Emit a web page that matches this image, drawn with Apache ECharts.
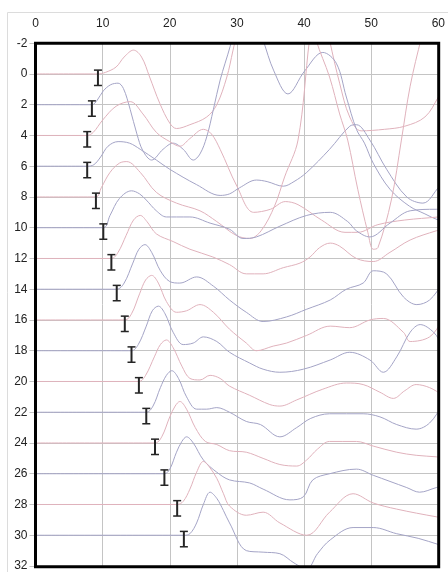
<!DOCTYPE html>
<html><head><meta charset="utf-8">
<script src="https://cdn.jsdelivr.net/npm/echarts@6/dist/echarts.min.js"></script>
<style>html,body{margin:0;padding:0;background:#fff}#c{width:448px;height:572px}</style>
</head><body><div id="c"></div>
<script>
const trace0=[[0,0],[9.3,0],[10.4,-0.1],[12,-0.45],[13.2,-1.1],[14.6,-1.55],[15.8,-1.1],[17,0.2],[18.5,1.9],[20,3.2],[21,3.55],[23,3.3],[25.5,2.8],[27,2.0],[28.5,0.2],[29.4,-1.5],[30.3,-3.2],[31.5,-5],[37,-8],[42.5,-5],[43.8,-2.2],[45.3,0.6],[46.8,2.8],[48.5,3.7],[52,3.6],[55,3.4],[58,2.8],[60,1.5],[61.5,0.2]];
const trace1=[[0,2],[8.4,2],[9.2,1.7],[10.1,1.1],[11.2,0.7],[12.3,0.6],[13.1,0.95],[14.1,2.3],[15.1,3.9],[16,5],[17.3,5.6],[19,4.9],[20.5,4.5],[22,4.9],[23.5,5.6],[24.5,5.2],[25.5,4.1],[26.5,2.3],[27.5,0.4],[29,-1.8],[30,-3.5],[32,-4.5],[33.9,-2.2],[35.5,-0.2],[37.6,1.3],[40.1,-0.2],[42.8,-1.4],[44.8,-0.7],[46.3,1.5],[47.8,3.6],[49,4.5],[50.3,5.8],[52.8,7.5],[55.7,8.6],[58,9.1],[60,9.5],[61.5,9.6]];
const trace2=[[0,4],[7.7,4],[8.6,3.8],[10,3.0],[12,2.1],[14.1,1.8],[16,2.6],[18,3.8],[20,4.4],[21.5,4.7],[23,4.2],[25,3.6],[26.2,3.9],[27.5,4.9],[30,7.3],[32.5,9.0],[35,8.8],[37.2,8.3],[39.1,8.5],[42.6,9.5],[46.1,10.3],[48,10.3],[51,9.8],[55,9.5],[60,9.3],[61.5,9.2]];
const trace3=[[0,6],[7.7,6],[8.7,5.9],[9.7,5.4],[10.8,4.7],[12.3,4.4],[14,4.5],[15.6,4.9],[18,5.6],[20,6.2],[24,7.2],[27.5,7.9],[28.9,7.8],[30.4,7.4],[32.9,6.9],[34.5,7.0],[36.9,7.3],[38.5,7.0],[40.4,6.4],[43.8,4.9],[46.8,3.4],[47.8,3.3],[49.8,4.3],[52.3,6.2],[55.3,8.0],[57.7,8.4],[60.2,7.3],[61.5,6.8]];
const trace4=[[0,8],[9,8],[9.8,7.4],[11.1,6.4],[12.5,5.8],[13.6,5.7],[15.6,6.4],[18,7.7],[21,8.4],[24.5,8.9],[27,9.6],[29.9,10.5],[31.9,10.7],[33.6,10.2],[35.6,8.6],[37.1,6.7],[39.1,4.3],[40.8,-2.2],[41.3,-3.5],[41.8,-2.2],[43.8,0.2],[45.3,2.6],[46.5,4.3],[48,7.5],[49.5,10.3],[50.3,11.4],[51,11.3],[53,8.2],[54.5,4.3],[55.8,0.8],[57.5,-2.4],[58.5,-4]];
const trace5=[[0,10],[10.1,10],[11.1,9.2],[12.5,8.1],[14.3,7.6],[15.5,7.8],[16.5,8.2],[18,8.9],[19.5,9.3],[21,9.3],[23,9.3],[26,9.7],[28.9,10.1],[30.9,10.7],[32.9,10.6],[36.4,9.9],[40.4,9.2],[43.9,9.0],[46.5,9.6],[47.8,10.2],[49.8,10.6],[52.8,9.7],[55.8,8.9],[59.7,8.8],[61.5,8.8]];
const trace6=[[0,12],[11.3,12],[12.3,11.6],[13.5,10.5],[14.6,9.5],[15.6,9.2],[16.6,9.6],[18,10.4],[20.5,10.9],[23,11.4],[26.4,11.9],[28.9,12.4],[31.4,13.0],[33.9,13.0],[36.9,12.6],[39.4,12.3],[40.9,11.9],[42.3,11.3],[43.9,11.0],[45.3,11.2],[47.8,12.0],[50.3,12.2],[52.8,11.6],[55.8,10.8],[59.7,10.2],[61.5,10.0]];
const trace7=[[0,14],[12.1,14],[13.2,13.6],[14.5,12.3],[15.4,11.4],[16.3,11.1],[17.3,11.6],[18.6,12.8],[20,13.5],[21.5,13.6],[24,13.2],[26.5,13.8],[28.9,14.7],[31.4,15.5],[33.9,16.1],[37.4,15.8],[40.4,15.3],[43.9,14.7],[46.3,14.0],[48.8,13.6],[50.3,12.8],[52.3,13.0],[54.8,14.5],[56.8,15.0],[58.7,14.7],[60.7,13.6],[61.5,13.2]];
const trace8=[[0,16],[13.3,16],[14.3,15.6],[15.5,14.3],[16.4,13.4],[17.3,13.1],[18.3,13.6],[19.5,14.8],[21,15.5],[22.5,15.4],[24.5,15.0],[26.5,15.5],[28.9,16.6],[31.4,17.5],[32.9,18.0],[35.4,17.7],[37.4,17.5],[40.4,17.0],[43.9,16.4],[46.8,16.5],[49.8,16.0],[51.8,15.9],[54.8,16.8],[55.8,17.4],[58.7,17.1],[60.7,16.0],[61.5,15.6]];
const trace9=[[0,18],[14.3,18],[15.3,17.6],[16.5,16.4],[17.4,15.4],[18.3,15.1],[19.3,15.6],[20.5,16.8],[22,17.6],[23.5,17.5],[25,17.1],[27,17.4],[28.9,18.1],[31.9,18.8],[33.9,19.2],[36.4,19.4],[39.9,19.2],[43.9,18.6],[46.8,18.1],[49.8,18.6],[51.8,19.4],[53.8,18.4],[55.8,16.8],[57.3,16.3],[59.3,16.8],[60.7,17.7],[61.5,18.1]];
const trace10=[[0,20],[15.4,20],[16.4,19.6],[17.7,18.4],[18.6,17.6],[19.5,17.3],[20.5,17.8],[21.8,19.0],[23,19.8],[24.5,19.9],[26,19.6],[27.5,19.8],[28.9,20.3],[31.9,20.9],[34.9,21.5],[36.4,21.6],[38.9,21.2],[42.8,20.5],[46.3,20.1],[48.8,20.2],[51.3,20.7],[53.3,21.1],[55,20.6],[56.7,20.2],[58.7,20.4],[60.7,20.9],[61.5,21.1]];
const trace11=[[0,22],[16.5,22],[17.5,21.6],[18.6,20.4],[19.5,19.6],[20.3,19.3],[21.3,19.8],[22.5,21.0],[24,21.8],[25.5,21.8],[27,21.7],[28.9,22.0],[31.4,22.6],[33.5,22.8],[36.4,23.6],[38.9,23.0],[41,22.4],[43.8,22.1],[48.8,22.1],[51.3,22.3],[53.8,22.8],[56.7,23.1],[58.7,22.7],[60.7,21.5],[61.5,21.1]];
const trace12=[[0,24],[17.8,24],[18.8,23.6],[20,22.3],[20.8,21.6],[21.5,21.3],[22.5,21.8],[23.8,23.0],[25.3,23.9],[27,24.1],[28.9,24.5],[31.4,24.6],[33.9,25.0],[36.4,25.4],[38.9,25.5],[40.4,25.1],[42,24.4],[43.8,23.9],[47.8,23.9],[50.3,24.2],[53.8,24.6],[56.7,24.8],[59.7,24.9],[61.5,25.0]];
const trace13=[[0,26],[19.2,26],[20,25.7],[21,24.6],[21.8,23.9],[22.5,23.6],[23.5,24.0],[25,25.1],[27,25.9],[28.9,26.4],[31.9,26.6],[33.9,27.0],[37.9,27.7],[39.9,27.5],[41.3,26.4],[43.8,26.0],[47.8,25.7],[50.3,26.1],[52.8,26.5],[55.3,26.9],[57.2,27.2],[59.7,26.9],[61.5,26.7]];
const trace14=[[0,28],[21.1,28],[22,27.8],[23,27],[24,25.9],[25,25.2],[25.8,25.5],[27,26.3],[28,27.3],[28.9,28.1],[31.4,28.7],[33.9,28.5],[36.4,29.2],[40.4,30.0],[43.8,28.5],[47.3,27.3],[50.3,27.9],[53.8,28.3],[59.7,28.8],[61.5,28.9]];
const trace15=[[0,30],[22.1,30],[23,29.9],[24,29.2],[25,28],[26,27.2],[27,27.6],[28,28.4],[28.9,29.2],[31.4,31],[33.9,31.1],[36.4,31.2],[38.5,31.8],[40.4,32.2],[42,31.2],[43.9,30.3],[47.3,29.5],[50.3,29.5],[53.8,29.9],[57,30.2],[60,30.6],[61.5,30.8]];
const barX=[9.3,8.4,7.7,7.7,9.0,10.1,11.3,12.1,13.3,14.3,15.4,16.5,17.8,19.2,21.1,22.1];
const barLow=[-0.25,1.75,3.75,5.75,7.75,9.75,11.75,13.75,15.75,17.75,19.75,21.75,23.75,25.75,27.75,29.75];
const barHigh=[0.75,2.75,4.75,6.75,8.75,10.75,12.75,14.75,16.75,18.75,20.75,22.75,24.75,26.75,28.75,30.75];

const traces=[trace0,trace1,trace2,trace3,trace4,trace5,trace6,trace7,trace8,trace9,trace10,trace11,trace12,trace13,trace14,trace15];
const chart=echarts.init(document.getElementById('c'),null,{renderer:'canvas'});
const series=traces.map((t,i)=>({type:'line',data:t,smooth:0.35,symbol:'none',silent:true,
  lineStyle:{width:1,color:i%2?'#a4a4c6':'#e0b2bc'},z:2}));
series.push({type:'custom',silent:true,z:5,
  data:barX.map((x,i)=>[x,barLow[i],barHigh[i]]),
  encode:{x:0,y:[1,2]},
  renderItem:(p,api)=>{
    const a=api.coord([api.value(0),api.value(1)]);
    const b=api.coord([api.value(0),api.value(2)]);
    const w=4;
    return {type:'group',children:[
      {type:'line',shape:{x1:a[0],y1:a[1],x2:b[0],y2:b[1]},style:{stroke:'#252525',lineWidth:2}},
      {type:'line',shape:{x1:a[0]-w,y1:a[1],x2:a[0]+w,y2:a[1]},style:{stroke:'#252525',lineWidth:1.5}},
      {type:'line',shape:{x1:b[0]-w,y1:b[1],x2:b[0]+w,y2:b[1]},style:{stroke:'#252525',lineWidth:1.5}}
    ]};
  }});
const gridLeft=35.5,gridTop=43.2,gridW=403.2,gridH=523.6;
chart.setOption({
  animation:false,
  backgroundColor:'#fff',
  grid:{left:gridLeft,top:gridTop,width:gridW,height:gridH,containLabel:false},
  xAxis:{type:'value',position:'top',min:0,max:60,interval:10,
    axisLine:{show:false},
    axisTick:{show:true,length:6,lineStyle:{color:'#c4c4c4'}},
    axisLabel:{color:'#222',fontSize:12,fontFamily:'Liberation Sans, Arial, sans-serif',margin:14},
    splitLine:{show:true,lineStyle:{color:'#c4c4c4',width:1}}},
  yAxis:{type:'value',inverse:true,min:-2,max:32,interval:2,
    axisLine:{show:false},
    axisTick:{show:true,length:6,lineStyle:{color:'#c4c4c4'}},
    axisLabel:{color:'#222',fontSize:12,fontFamily:'Liberation Sans, Arial, sans-serif',margin:8},
    splitLine:{show:true,lineStyle:{color:'#c4c4c4',width:1}}},
  graphic:[
    {type:'rect',z:100,silent:true,shape:{x:gridLeft,y:gridTop,width:gridW,height:gridH},style:{fill:'none',stroke:'#000',lineWidth:3}},
    {type:'rect',z:100,silent:true,shape:{x:7.5,y:12.5,width:480,height:620},style:{fill:'none',stroke:'#dcdcdc',lineWidth:1}}
  ],
  series:series
});
</script></body></html>
